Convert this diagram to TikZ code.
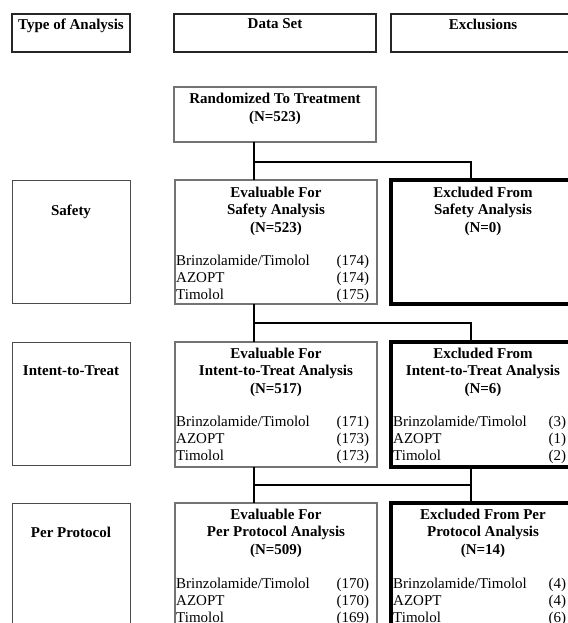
\documentclass[tikz,border=0pt]{standalone}
\usepackage{fontspec}
\setmainfont{Liberation Serif}
\usetikzlibrary{calc}
\newcommand{\lrow}[3]{\hbox to #1{#2\hfil #3}}
\begin{document}
\begin{tikzpicture}[x=1pt,y=-1pt,
  font=\fontsize{15}{17.5}\selectfont,
  basebox/.style={draw, rectangle, inner sep=0pt, outer sep=0pt},
  hdrbox/.style={basebox, draw=black!85, line width=1.6pt},
  evbox/.style={basebox, draw=black!55, line width=2.2pt},
  exbox/.style={basebox, draw=black, line width=3.5pt},
  typebox/.style={basebox, draw=black!70, line width=1pt},
  ttl/.style={anchor=north, align=center, inner sep=0pt, font=\fontsize{15}{17.5}\selectfont\bfseries},
  lst/.style={anchor=north west, align=left, inner sep=0pt, font=\fontsize{15}{17}\selectfont},
  conn/.style={draw=black, line width=1.4pt}]
\useasboundingbox (0,0) rectangle (567,623);

% header row
\node[hdrbox, minimum width=118pt, minimum height=38pt] (type) at (71,33) {};
\node[hdrbox, minimum width=202pt, minimum height=38pt] (dset) at (275,33) {};
\node[hdrbox, minimum width=189pt, minimum height=38pt] (excl) at (485.5,33) {};
\node[ttl] (typet) at (71,18.5) {Type of Analysis};
\node[ttl] (dsett) at (275,18.5) {Data Set};
\node[ttl] (exclt) at (483,18.5) {Exclusions};

% randomized
\node[evbox, minimum width=202pt, minimum height=55pt] (rand) at (275,114.5) {};
\node[ttl] (randt) at (275,93) {Randomized To Treatment\\(N=523)};

% safety row
\node[typebox, minimum width=118pt, minimum height=123pt] (saf) at (71,241.5) {};
\node[ttl] (saft) at (71,204.5) {Safety};
\node[evbox, minimum width=202pt, minimum height=124pt] (evs) at (276,242) {};
\node[ttl] (evst) at (276,186.5) {Evaluable For\\Safety Analysis\\(N=523)};
\node[lst] (evsl) at (176,254.5) {\lrow{193pt}{Brinzolamide/Timolol}{(174)}\\\lrow{193pt}{AZOPT}{(174)}\\\lrow{193pt}{Timolol}{(175)}};
\node[exbox, minimum width=189pt, minimum height=124pt] (exs) at (485.5,242) {};
\node[ttl] (exst) at (483,186.5) {Excluded From\\Safety Analysis\\(N=0)};

% intent-to-treat row
\node[typebox, minimum width=118pt, minimum height=123pt] (itt) at (71,403.5) {};
\node[ttl] (ittt) at (71,365.5) {Intent-to-Treat};
\node[evbox, minimum width=202pt, minimum height=125pt] (evi) at (276,404.5) {};
\node[ttl] (evit) at (276,347.5) {Evaluable For\\Intent-to-Treat Analysis\\(N=517)};
\node[lst] (evil) at (176,416) {\lrow{193pt}{Brinzolamide/Timolol}{(171)}\\\lrow{193pt}{AZOPT}{(173)}\\\lrow{193pt}{Timolol}{(173)}};
\node[exbox, minimum width=189pt, minimum height=125pt] (exi) at (485.5,404.5) {};
\node[ttl] (exit) at (483,347.5) {Excluded From\\Intent-to-Treat Analysis\\(N=6)};
\node[lst] (exil) at (393,416) {\lrow{173pt}{Brinzolamide/Timolol}{(3)}\\\lrow{173pt}{AZOPT}{(1)}\\\lrow{173pt}{Timolol}{(2)}};

% per protocol row
\node[typebox, minimum width=118pt, minimum height=147pt] (pp) at (71,576.5) {};
\node[ttl] (ppt) at (71,526.5) {Per Protocol};
\node[evbox, minimum width=202pt, minimum height=147pt] (evp) at (276,576.5) {};
\node[ttl] (evpt) at (276,508.5) {Evaluable For\\Per Protocol Analysis\\(N=509)};
\node[lst] (evpl) at (176,577.5) {\lrow{193pt}{Brinzolamide/Timolol}{(170)}\\\lrow{193pt}{AZOPT}{(170)}\\\lrow{193pt}{Timolol}{(169)}};
\node[exbox, minimum width=189pt, minimum height=147pt] (exp) at (485.5,576.5) {};
\node[ttl] (expt) at (483,508.5) {Excluded From Per\\Protocol Analysis\\(N=14)};
\node[lst] (expl) at (393,577.5) {\lrow{173pt}{Brinzolamide/Timolol}{(4)}\\\lrow{173pt}{AZOPT}{(4)}\\\lrow{173pt}{Timolol}{(6)}};

% connectors
\coordinate (j1) at ($(rand.south west)+(80,20)$);
\draw[conn] ($(rand.south west)+(80,0)$) -- ($(evs.north west)+(79,0)$);
\draw[conn] (j1) -| ($(exs.north west)+(80,0)$);

\coordinate (j2) at ($(evs.south west)+(79,19)$);
\draw[conn] ($(evs.south west)+(79,0)$) -- ($(evi.north west)+(79,0)$);
\draw[conn] (j2) -| ($(exi.north west)+(80,0)$);

\coordinate (j3) at ($(evi.south west)+(79,18)$);
\coordinate (j4) at ($(exi.south west)+(80,18)$);
\draw[conn] ($(evi.south west)+(79,0)$) -- ($(evp.north west)+(79,0)$);
\draw[conn] ($(exi.south west)+(80,0)$) -- ($(exp.north west)+(80,0)$);
\draw[conn] (j3) -- (j4);
\end{tikzpicture}
\end{document}
